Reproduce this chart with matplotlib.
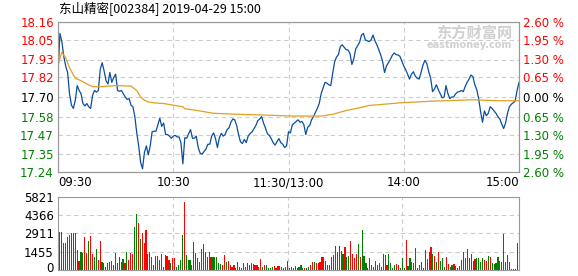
import numpy as np
import matplotlib
matplotlib.use('Agg')
import matplotlib.pyplot as plt
import matplotlib.transforms as mtransforms

plt.rcParams['font.family'] = ['DejaVu Sans', 'Noto Sans CJK SC']

# données
pre_close = 17.70
prix = [17.84, 18.09, 18.04, 17.95, 17.89, 17.85, 17.72, 17.65, 17.63, 17.68,
        17.77, 17.74, 17.72, 17.66, 17.645, 17.66, 17.64, 17.63, 17.71, 17.74,
        17.73, 17.74, 17.87, 17.91, 17.86, 17.80, 17.78, 17.85, 17.79, 17.82,
        17.84, 17.74, 17.735, 17.74, 17.72, 17.70, 17.685, 17.69, 17.65, 17.64,
        17.58, 17.48, 17.40, 17.30, 17.26, 17.36, 17.40, 17.345, 17.40, 17.487,
        17.49, 17.49, 17.53, 17.57, 17.52, 17.54, 17.47, 17.47, 17.46, 17.447,
        17.46, 17.465, 17.455, 17.455, 17.42, 17.29, 17.45, 17.447, 17.475, 17.50,
        17.447, 17.447, 17.46, 17.39, 17.355, 17.35, 17.365, 17.38, 17.41, 17.41,
        17.46, 17.48, 17.445, 17.39, 17.45, 17.477, 17.46, 17.47, 17.50, 17.51,
        17.545, 17.565, 17.56, 17.525, 17.47, 17.425, 17.415, 17.44, 17.42, 17.46,
        17.477, 17.485, 17.505, 17.525, 17.555, 17.565, 17.58, 17.54, 17.51, 17.475,
        17.465, 17.445, 17.42, 17.405, 17.425, 17.445, 17.42, 17.41, 17.39, 17.40,
        17.487, 17.48, 17.53, 17.54, 17.55, 17.56, 17.545, 17.55, 17.53, 17.47,
        17.515, 17.525, 17.56, 17.58, 17.605, 17.63, 17.66, 17.72, 17.755, 17.79,
        17.785, 17.775, 17.77, 17.845, 17.915, 17.945, 17.96, 18.01, 18.02, 18.005,
        17.99, 17.988, 17.967, 17.90, 17.935, 17.995, 18.015, 18.035, 18.08, 18.09,
        18.05, 18.045, 18.04, 18.05, 18.08, 18.045, 18.02, 17.99, 17.958, 17.917,
        17.85, 17.89, 17.91, 17.93, 17.955, 17.97, 17.96, 17.958, 17.95, 17.92,
        17.89, 17.868, 17.84, 17.81, 17.84, 17.855, 17.828, 17.815, 17.81, 17.85,
        17.895, 17.925, 17.905, 17.855, 17.815, 17.733, 17.75, 17.775, 17.745, 17.72,
        17.695, 17.70, 17.77, 17.72, 17.69, 17.70, 17.70, 17.72, 17.73, 17.733,
        17.74, 17.733, 17.765, 17.79, 17.81, 17.835, 17.825, 17.775, 17.745, 17.69,
        17.61, 17.545, 17.615, 17.585, 17.60, 17.64, 17.63, 17.615, 17.60, 17.58,
        17.565, 17.535, 17.507, 17.54, 17.60, 17.64, 17.655, 17.665, 17.675, 17.74,
        17.79]

# prix moyen (minutes, valeur)
t_moy = [0, 2, 4, 6, 8, 9, 12, 15, 18, 22, 30, 38, 41, 43, 45, 47, 50, 55, 60,
         65, 66, 71, 76, 81, 98, 106, 122, 137, 143, 150, 157, 162, 179, 196,
         216, 230, 240]
moyenne = [17.90, 17.975, 17.94, 17.88, 17.835, 17.815, 17.80, 17.78, 17.763,
           17.763, 17.77, 17.767, 17.74, 17.70, 17.68, 17.67, 17.664, 17.66, 17.65,
           17.64, 17.628, 17.62, 17.61, 17.60, 17.592, 17.59, 17.583, 17.583, 17.594,
           17.617, 17.634, 17.648, 17.665, 17.675, 17.683, 17.677, 17.677]

vol_matin = [3000, 3000, 2180, 2120, 2600, 2790, 2920, 2920, 2920, 1590,
             715, 1460, 1330, 2660, 1330, 2310, 2720, 1280, 1010, 1680,
             800, 2340, 600, 560, 240, 530, 610, 715, 400, 1330,
             530, 1060, 665, 850, 530, 1400, 800, 1330, 1280, 3450,
             4460, 3720, 2480, 2920, 2120, 3190, 1280, 1400, 1060, 400,
             1110, 1110, 800, 1280, 240, 1200, 1110, 800, 530, 930,
             980, 240, 400, 800, 2790, 5440, 1200, 800, 800, 400,
             2260, 1330, 980, 665, 1680, 2070, 1460, 1010, 1460, 1060,
             1060, 1010, 1010, 530, 450, 400, 1200, 610, 740, 400,
             240, 400, 190, 610, 240, 190, 560, 240, 530, 400,
             530, 450, 400, 400, 240, 880, 240, 400, 400, 130,
             160, 240, 320, 190, 320, 320, 240, 160, 240, 715]
sens_matin = 'rgggggggrgrggrrgrrggrrgggrrgrgrgrgrgrrrggrgrrrgrrgrrggggrrgrrggggrggggrgrgrrrgrrgggggrrgrrrrggrrgrgrrrrrrrgrggggrrrrgrg'

vol_aprem = [190, 240, 160, 320, 160, 240, 400, 130, 130, 190,
             240, 400, 610, 665, 530, 560, 665, 1060, 1060, 715,
             400, 400, 1060, 1200, 1910, 1460, 1910, 1540, 1280, 1800,
             1010, 1110, 2310, 1280, 980, 1250, 2070, 1060, 3190, 1110,
             560, 190, 930, 400, 240, 740, 400, 530, 240, 1280,
             1200, 400, 1280, 530, 160, 400, 480, 400, 190, 980,
             190, 2390, 320, 980, 610, 530, 1750, 160, 400, 665,
             190, 1590, 850, 1400, 1860, 1280, 1110, 665, 1460, 740,
             930, 240, 1060, 450, 240, 400, 450, 320, 190, 320,
             800, 1400, 930, 1640, 930, 1280, 715, 850, 930, 930,
             665, 930, 800, 715, 1110, 1010, 530, 450, 560, 1060,
             715, 665, 2870, 665, 1200, 665, 80, 100, 60, 2190]
sens_aprem = 'rgggrggggrggrrgrrrrggggrrrrrrgrggrrrrgrggggrrgrgrrggrggggrrgggrgggggrggrgrgrgrgrgggrrggrggrgrrrrgrrggggrrgrggggrgggggrggrgrgr'

vols = vol_matin + vol_aprem
sens = (sens_matin + sens_aprem)[:len(vols)]

heures = ['09:30', '10:30', '11:30/13:00', '14:00', '15:00']
niveaux = [17.24, 17.35, 17.47, 17.58, 17.70, 17.82, 17.93, 18.05, 18.16]
vol_ticks = [0, 1455, 2911, 4366, 5821]

rouge = '#ff0000'
vert = '#008000'
bleu = '#0a4f9e'
orange = '#e0a020'
grille = '#cccccc'
cadre = '#999999'

fig = plt.figure(figsize=(5.78, 2.76), dpi=100)

# graphique du prix
ax = fig.add_axes([58/578, 1-172/276, 461/578, 150/276])
minutes = np.arange(len(prix))
ax.plot(minutes, prix, color=bleu, lw=0.9)
ax.plot(t_moy, moyenne, color=orange, lw=0.9)
ax.set_xlim(0, 240)
ax.set_ylim(17.24, 18.16)
ax.set_yticks(niveaux)
ax.set_yticklabels(['%.2f' % v for v in niveaux], fontsize=8.5)
for lab, v in zip(ax.get_yticklabels(), niveaux):
    if v > pre_close + 0.001:
        lab.set_color(rouge)
    elif v < pre_close - 0.001:
        lab.set_color(vert)
    else:
        lab.set_color('black')
ax.set_xticks([0, 60, 120, 180, 240])
ax.set_xticklabels(heures, fontsize=8.5)
xl = ax.get_xticklabels()
xl[0].set_ha('left')
xl[-1].set_ha('right')
ax.tick_params(length=0, pad=3)
ax.grid(True, color=grille, ls=(0, (4, 3)), lw=0.8)
for s in ax.spines.values():
    s.set_color(cadre)

# axe de droite en pourcentage
ax2 = ax.twinx()
ax2.set_ylim(17.24, 18.16)
ax2.set_yticks(niveaux)
pct = [(v - pre_close) / pre_close * 100 for v in niveaux]
ax2.set_yticklabels(['%.2f %%' % abs(round(p / 0.65) * 0.65) for p in pct], fontsize=8.5)
for lab, p in zip(ax2.get_yticklabels(), pct):
    if p > 0.01:
        lab.set_color(rouge)
    elif p < -0.01:
        lab.set_color(vert)
    else:
        lab.set_color('black')
ax2.tick_params(length=0, pad=3)
for s in ax2.spines.values():
    s.set_color(cadre)

# filigrane
ax.text(0.985, 0.93, '东方财富网', transform=ax.transAxes, ha='right', va='center',
        fontsize=11, fontweight='bold', color='#d0d0d0', family='Noto Sans CJK SC')
ax.text(0.985, 0.85, 'eastmoney.com', transform=ax.transAxes, ha='right', va='center',
        fontsize=7, fontweight='bold', color='#d0d0d0')

# titre, aligné sur le bord gauche du graphique
fig.text(59/578, 1-9/276, '东山精密[002384] 2019-04-29 15:00', ha='left', va='center',
         fontsize=9, family=['Noto Sans CJK SC', 'DejaVu Sans'])

# volumes
axv = fig.add_axes([58/578, 1-270/276, 461/578, 73/276])
couleurs = [rouge if c == 'r' else vert for c in sens]
axv.bar(np.arange(1, len(vols) + 1), vols, width=0.6, color=couleurs, lw=0)
axv.set_xlim(0, 241)
axv.set_ylim(0, 5821)
axv.set_yticks(vol_ticks)
axv.set_yticklabels([str(v) for v in vol_ticks], fontsize=8.5)
axv.set_xticks([60, 120, 180])
axv.set_xticklabels([])
axv.tick_params(length=0, pad=3)
axv.grid(True, color=grille, ls=(0, (4, 3)), lw=0.8)
axv.set_axisbelow(True)
for s in axv.spines.values():
    s.set_color(cadre)

# on remonte un peu le label 0 pour qu'il ne soit pas coupé
zero = axv.get_yticklabels()[0]
zero.set_transform(zero.get_transform() + mtransforms.ScaledTranslation(0, 2/72, fig.dpi_scale_trans))

fig.savefig('out.png', dpi=100)
